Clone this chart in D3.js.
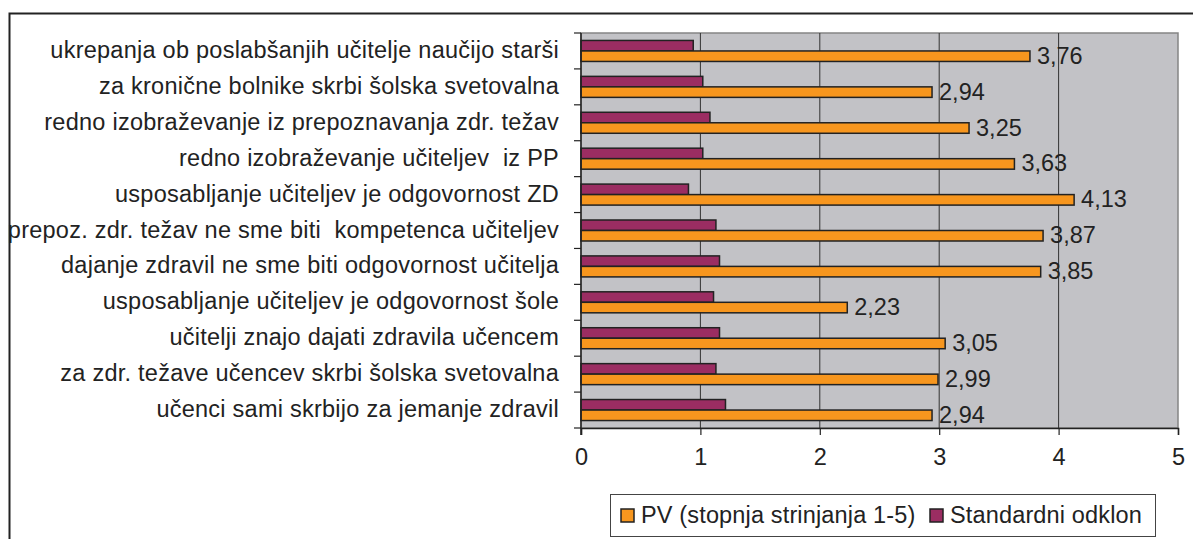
<!DOCTYPE html>
<html>
<head>
<meta charset="utf-8">
<script src="https://cdn.jsdelivr.net/npm/d3@7"></script>
<style>
  body { margin: 0; background: #fff; }
  text { font-family: "Liberation Sans", Arial, sans-serif; fill: #222; white-space: pre; }
</style>
</head>
<body>
<div id="chart-area"></div>
<script>
// categories top to bottom
var categories = [
  "ukrepanja ob poslabšanjih učitelje naučijo starši",
  "za kronične bolnike skrbi šolska svetovalna",
  "redno izobraževanje iz prepoznavanja zdr. težav",
  "redno izobraževanje učiteljev  iz PP",
  "usposabljanje učiteljev je odgovornost ZD",
  "prepoz. zdr. težav ne sme biti  kompetenca učiteljev",
  "dajanje zdravil ne sme biti odgovornost učitelja",
  "usposabljanje učiteljev je odgovornost šole",
  "učitelji znajo dajati zdravila učencem",
  "za zdr. težave učencev skrbi šolska svetovalna",
  "učenci sami skrbijo za jemanje zdravil"
];
var pvValues = [3.76, 2.94, 3.25, 3.63, 4.13, 3.87, 3.85, 2.23, 3.05, 2.99, 2.94];
var sdValues = [0.94, 1.02, 1.08, 1.02, 0.90, 1.13, 1.16, 1.11, 1.16, 1.13, 1.21];
var xTicks = [0, 1, 2, 3, 4, 5];
var seriesNames = ["PV (stopnja strinjanja 1-5)", "Standardni odklon"];

var W = 1193, H = 539;
var plotLeft = 581, plotRight = 1178, plotTop = 33, plotBottom = 428;
var orange = "#f7961e", purple = "#9b2d62";
var fs = 23.5;

var svg = d3.select('#chart-area').append('svg')
    .attr("width", W)
    .attr("height", H);

// outer frame (only left and top visible)
svg.append('path')
    .attr('d', 'M9.5,' + H + 'V13.5H' + W)
    .attr('fill', 'none')
    .attr('stroke', '#222')
    .attr('stroke-width', 2);

var theX = d3.scaleLinear().domain([0, 5]).range([plotLeft, plotRight]);
var theY = d3.scaleBand().domain(categories).range([plotTop, plotBottom]);
var inner = d3.scaleBand().domain(["sd", "pv"])
    .range([0, theY.bandwidth()])
    .paddingOuter(0.71);

// plot background
svg.append('rect')
    .attr('x', plotLeft).attr('y', plotTop)
    .attr('width', plotRight - plotLeft).attr('height', plotBottom - plotTop)
    .attr('fill', '#c2c2c6')
    .attr('stroke', '#858585')
    .attr('stroke-width', 1.5);

// vertical gridlines
svg.selectAll('line.grid')
    .data(xTicks.slice(1, 5))
    .enter().append('line')
    .attr('class', 'grid')
    .attr('x1', function(d){ return theX(d); })
    .attr('x2', function(d){ return theX(d); })
    .attr('y1', plotTop).attr('y2', plotBottom)
    .attr('stroke', '#333')
    .attr('stroke-width', 1);

// bars
var rows = categories.map(function(c, i){
    return { name: c, pv: pvValues[i], sd: sdValues[i] };
});

var g = svg.append('g');
g.selectAll('rect.sd')
    .data(rows).enter().append('rect')
    .attr('class', 'sd')
    .attr('x', theX(0))
    .attr('y', function(d){ return theY(d.name) + inner("sd"); })
    .attr('width', function(d){ return theX(d.sd) - theX(0); })
    .attr('height', inner.bandwidth())
    .attr('fill', purple)
    .attr('stroke', '#222')
    .attr('stroke-width', 1.5);

g.selectAll('rect.pv')
    .data(rows).enter().append('rect')
    .attr('class', 'pv')
    .attr('x', theX(0))
    .attr('y', function(d){ return theY(d.name) + inner("pv"); })
    .attr('width', function(d){ return theX(d.pv) - theX(0); })
    .attr('height', inner.bandwidth())
    .attr('fill', orange)
    .attr('stroke', '#222')
    .attr('stroke-width', 1.5);

// value labels
g.selectAll('text.val')
    .data(rows).enter().append('text')
    .attr('class', 'val')
    .attr('x', function(d){ return theX(d.pv) + 7; })
    .attr('y', function(d){ return theY(d.name) + inner("pv") + inner.bandwidth() / 2 + 7.5; })
    .attr('font-size', fs)
    .text(function(d){ return d.pv.toFixed(2).replace('.', ','); });

// left axis line + ticks at band edges
var edges = categories.map(function(c){ return theY(c); }).concat([plotBottom]);
svg.append('line')
    .attr('x1', plotLeft).attr('x2', plotLeft).attr('y1', plotTop).attr('y2', plotBottom + 7)
    .attr('stroke', '#222').attr('stroke-width', 1.5);
svg.selectAll('line.ytick')
    .data(edges).enter().append('line')
    .attr('class', 'ytick')
    .attr('x1', plotLeft - 7).attr('x2', plotLeft)
    .attr('y1', function(d){ return d; }).attr('y2', function(d){ return d; })
    .attr('stroke', '#222').attr('stroke-width', 1.2);

// category labels
svg.selectAll('text.cat')
    .data(categories).enter().append('text')
    .attr('class', 'cat')
    .attr('x', 559)
    .attr('y', function(d){ return theY(d) + theY.bandwidth() / 2 + 7; })
    .attr('text-anchor', 'end')
    .attr('font-size', fs)
    .attr('letter-spacing', 0.25)
    .text(function(d){ return d; });

// bottom axis
var axisX = d3.axisBottom(theX).tickValues(xTicks).tickFormat(d3.format("d"))
    .tickSize(7).tickPadding(13);
var ax = svg.append('g')
    .attr('transform', 'translate(0,' + plotBottom + ')')
    .call(axisX);
ax.select('.domain').attr('stroke', '#222').attr('stroke-width', 1.5);
ax.selectAll('.tick line').attr('stroke', '#222').attr('stroke-width', 1.2);
ax.selectAll('.tick text')
    .attr('font-size', fs)
    .attr('font-family', '"Liberation Sans", Arial, sans-serif')
    .attr('fill', '#222');

// legend
var leg = svg.append('g');
leg.append('rect')
    .attr('x', 610.5).attr('y', 494.5)
    .attr('width', 545).attr('height', 42)
    .attr('fill', '#fff')
    .attr('stroke', '#444')
    .attr('stroke-width', 1);
var legItems = [
    { name: seriesNames[0], color: orange, x: 621 },
    { name: seriesNames[1], color: purple, x: 930 }
];
legItems.forEach(function(it){
    leg.append('rect')
        .attr('x', it.x).attr('y', 509)
        .attr('width', 13).attr('height', 13)
        .attr('fill', it.color)
        .attr('stroke', '#222')
        .attr('stroke-width', 1.5);
    leg.append('text')
        .attr('x', it.x + 20)
        .attr('y', 523)
        .attr('font-size', fs)
        .attr('letter-spacing', 0.15)
        .text(it.name);
});
</script>
</body>
</html>
